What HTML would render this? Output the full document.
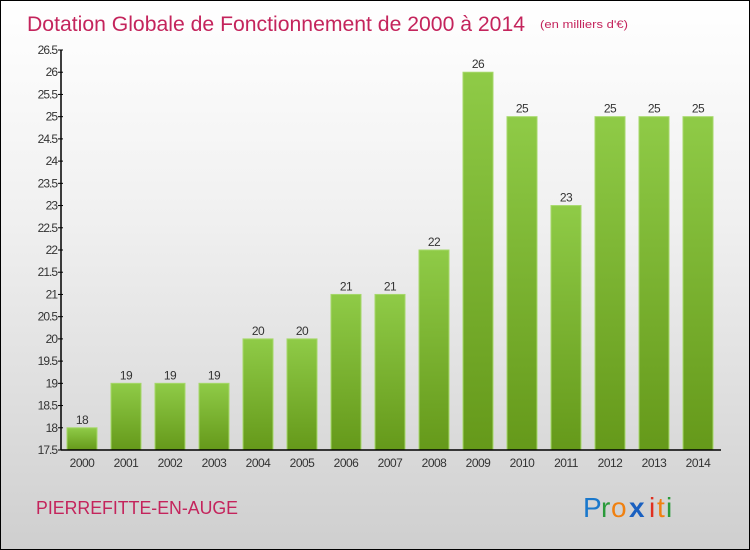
<!DOCTYPE html>
<html><head><meta charset="utf-8"><style>
body{margin:0}
#c{position:relative;width:748px;height:548px;border:1px solid #000;background:linear-gradient(#ffffff,#f0f0f0 40%,#cfcfcf);font-family:"Liberation Sans",sans-serif;overflow:hidden}
</style></head><body>
<div id="c">
<svg id="s" width="748" height="548">
<defs><linearGradient id="g" x1="0" y1="0" x2="0" y2="1"><stop offset="0" stop-color="#8fcb47"/><stop offset="1" stop-color="#65991a"/></linearGradient></defs>
<text x="26" y="30" font-size="21" fill="#c4245c" textLength="498" lengthAdjust="spacingAndGlyphs" style="font-family:'Liberation Sans',sans-serif">Dotation Globale de Fonctionnement de 2000 à 2014</text>
<text x="539" y="27" font-size="11" fill="#c4245c" textLength="88" lengthAdjust="spacingAndGlyphs">(en milliers d'€)</text>
<text x="35" y="513" font-size="18" fill="#c4245c" textLength="202" lengthAdjust="spacingAndGlyphs">PIERREFITTE-EN-AUGE</text>
<g font-size="28" style="font-family:'Liberation Sans',sans-serif">
<text x="582" y="516" fill="#1a78cc">P</text><text x="600" y="516" fill="#2a9a3a">r</text><text x="610" y="516" fill="#f08010">o</text><text x="628" y="516" fill="#1a60c0" font-weight="bold">x</text><text x="648" y="516" fill="#e03020">i</text><text x="656" y="516" fill="#f08010">t</text><text x="665" y="516" fill="#2a9a3a">i</text>
</g>
<g id="plot"></g>
</svg>
</div>
<script>
const years=["2000","2001","2002","2003","2004","2005","2006","2007","2008","2009","2010","2011","2012","2013","2014"];
const values=[18,19,19,19,20,20,21,21,22,26,25,23,25,25,25];
const yTicks=[17.5,18,18.5,19,19.5,20,20.5,21,21.5,22,22.5,23,23.5,24,24.5,25,25.5,26,26.5];
const NS="http://www.w3.org/2000/svg";
const p=document.getElementById('plot');
const y=v=>449-(v-17.5)*400/9;
const x=i=>81+i*44;
function mk(t,a){const e=document.createElementNS(NS,t);for(const k in a)e.setAttribute(k,a[k]);p.appendChild(e);return e;}
years.forEach((yr,i)=>{
 const r=mk('rect',{x:x(i)-15,y:y(values[i]),width:30,height:y(17.5)-y(values[i]),fill:'url(#g)',stroke:'#a6d86a','stroke-width':1});
 
 
 const t=mk('text',{x:x(i),y:y(values[i])-4,'font-size':12,fill:'#333','text-anchor':'middle','letter-spacing':'-0.5'});t.textContent=values[i];
 
 
 const l=mk('text',{x:x(i),y:466,'font-size':12,fill:'#333','text-anchor':'middle','letter-spacing':'-0.5'});l.textContent=yr;
 
 
});
yTicks.forEach(v=>{
 mk('line',{x1:57,x2:62,y1:y(v),y2:y(v),stroke:'#000'});
 const t=mk('text',{x:56,y:y(v)+4,'font-size':12,fill:'#333','text-anchor':'end','letter-spacing':'-1'});t.textContent=v;
 
 
});
const ya=mk('line',{x1:60,x2:60,y1:y(26.5),y2:y(17.5),stroke:'#000','stroke-width':1.5});


const xa=mk('line',{x1:60,x2:720,y1:y(17.5),y2:y(17.5),stroke:'#000','stroke-width':1.5});


</script>
</body></html>
